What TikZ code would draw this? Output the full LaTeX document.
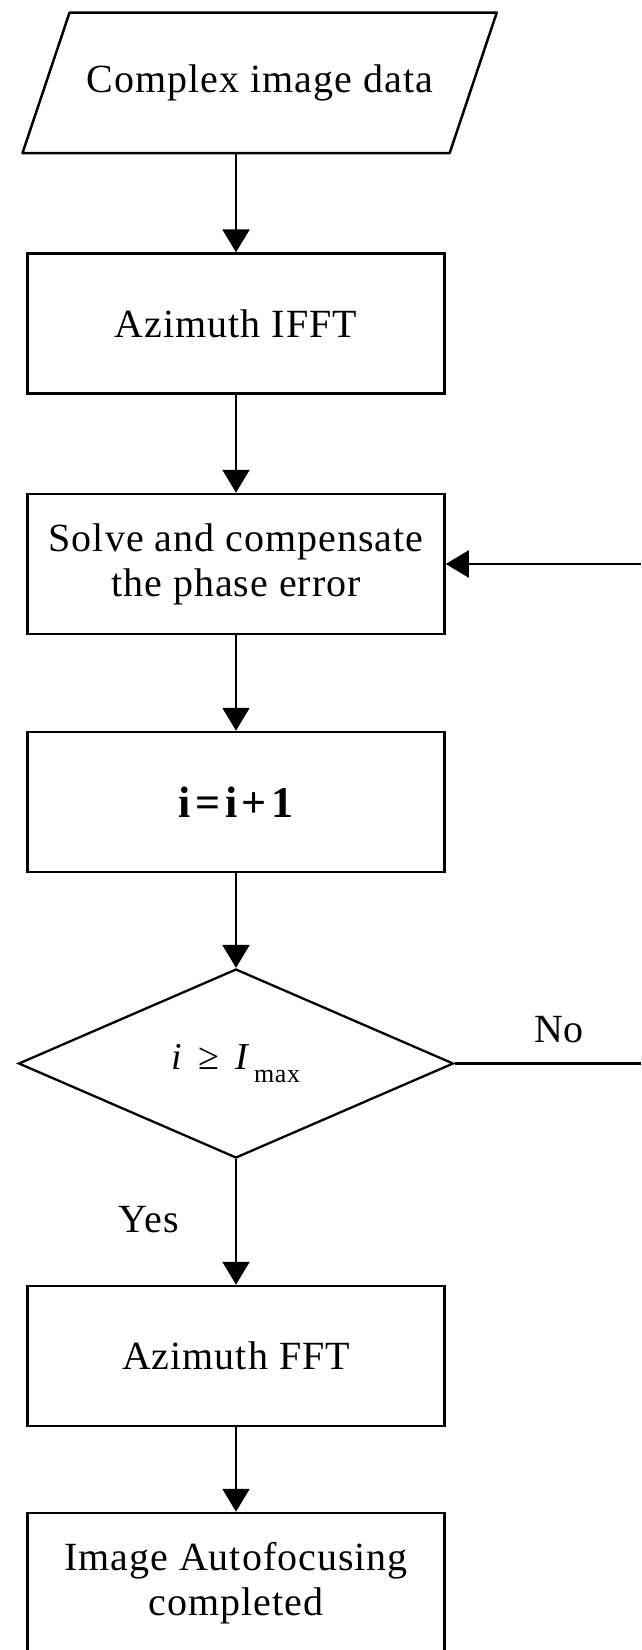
\documentclass[tikz,border=0pt]{standalone}
\usepackage{fontspec}
\setmainfont[LetterSpace=2.5]{Liberation Serif}
\newfontfamily\widefont[LetterSpace=10]{Liberation Serif}
\usetikzlibrary{arrows.meta,shapes.geometric}
\begin{document}
\begin{tikzpicture}[x=1pt,y=-1pt,
  box/.style={draw, line width=2.5pt, minimum width=417pt, minimum height=140pt, inner sep=0pt, align=center, font=\fontsize{40}{45}\selectfont},
  conn/.style={line width=2.3pt, -{Triangle[length=23pt,width=27pt]}},
  plain/.style={line width=2.3pt},
  lbl/.style={font=\fontsize{40}{45}\selectfont, inner sep=0pt}]
\useasboundingbox (0,0) rectangle (641,1650);
\draw[line width=2.5pt, line join=round] (69.5,12.7) -- (496.7,12.7) -- (449.7,153) -- (22.5,153) -- cycle;
\node[lbl] (in) at (260,83) {Complex image data};
\coordinate (inb) at (236,153);
\node[box] (b1) at (236,323.6) {Azimuth IFFT};
\node[box] (b2) at (236,564) {Solve and compensate\\the phase error};
\node[box, font=\fontsize{44}{48}\widefont\bfseries] (b3) at (236,802) {i=i+1};
\node[draw, line width=2.3pt, diamond, minimum width=435pt, minimum height=189pt, inner sep=0pt, font=\fontsize{38}{42}\selectfont] (d) at (236,1063.5) {\raisebox{5pt}{\itshape i\upshape\hspace{16pt}≥\hspace{16pt}\itshape I\upshape\hspace{6pt}\raisebox{-0.7ex}{\fontsize{26}{26}\selectfont max}}};
\node[box] (b4) at (236,1356) {Azimuth FFT};
\node[box, minimum height=141pt] (b5) at (236,1583.5) {Image Autofocusing\\completed};
\node[lbl] (no) at (559,1030) {No};
\node[lbl] (yes) at (149,1220) {Yes};
\coordinate (fb) at (641,564);
\coordinate (noend) at (641,1063.5);
\draw[conn] (inb) -- (b1);
\draw[conn] (b1) -- (b2);
\draw[conn] (b2) -- (b3);
\draw[conn] (b3) -- (d);
\draw[conn] (d) -- (b4);
\draw[conn] (b4) -- (b5);
\draw[conn] (fb) -- (b2);
\draw[plain] (d) -- (noend);
\end{tikzpicture}
\end{document}
